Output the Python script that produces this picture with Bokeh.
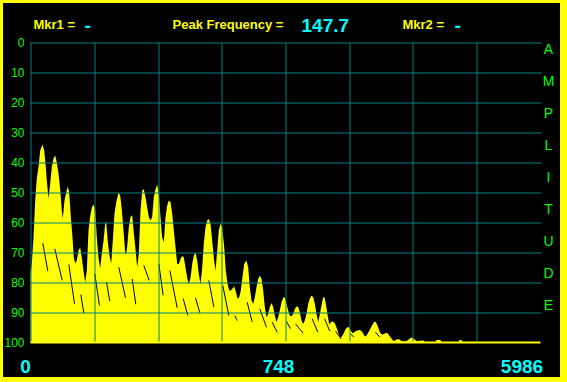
from bokeh.plotting import figure
from bokeh.models import Range1d
from bokeh.layouts import column
from bokeh.core.properties import value
from bokeh.embed import file_html
from bokeh.resources import INLINE

# ---- data (frequency bin, amplitude; 0 = top, 100 = bottom) ----
freq_bin = [0, 1.3, 3, 4.7, 6.3, 8, 9.7, 12, 13.7, 15.3, 16.3, 18, 19.7, 21.3, 23, 24.7, 26.3, 28, 29.7,
            31.3, 32.3, 34, 35.7, 37.3, 38.7, 40.3, 42, 43.3, 44.7, 46.3, 48, 49.7, 51.3, 53, 54.7, 56.3,
            58, 59.7, 61.3, 63, 64.7, 66.3, 68, 69.7, 71.3, 73, 74.7, 75.7, 77.3, 79, 80.7, 82.3, 84, 85.7,
            88, 89.7, 91.3, 93, 94.7, 95.5,
            96.7, 98.3, 100, 101.7, 103.3, 105, 106.7, 108.3, 110, 111.7, 113.3, 115, 116.7, 118.3, 120,
            121.7, 123.3, 125, 126.7, 128.3, 130, 131.7, 133.3, 135, 136.7, 138.3, 140, 141.7, 143.3, 145,
            146.7, 148.3, 150, 151.7, 153.3, 155, 156.7, 158.3, 160, 161.7, 163.3, 165, 166.7, 168.3, 170,
            171.7, 173.3, 175, 176.7, 178.3, 180, 181.7, 183.3, 185, 186.7, 188.3, 190, 191.7,
            193.7, 195.3, 197, 198.7, 200.3, 202, 203.7, 205.3, 207, 208.7, 210.3, 212, 213.7, 216, 217.7,
            219.3, 221, 222.7, 224.3, 226, 227.7, 229.3, 231, 232.7, 234.3, 236, 237.7, 239.3, 241, 242.7,
            244.3, 246, 247.7, 249.3, 251, 252.7, 254.3, 256, 257.7, 259.3, 261, 262.7, 264.3, 266, 267.7,
            269.3, 271, 272.7, 274.3, 276, 277.7, 279.3, 281, 282.7, 284.3, 286, 287.7,
            289.7, 291.3, 292.7, 294, 295.3, 297, 298.7, 300.3, 302, 303.7, 305.3, 307, 308.7, 310.3, 312,
            313.7, 315.3, 317, 318.7, 320.3, 322, 323.7, 325.3, 327, 328.7, 330.3, 332, 333.7, 335.3, 337,
            338.7, 340.3, 342, 343.7, 345.3, 347, 348.7, 350.3, 352, 353.7, 355.3, 357, 358.7, 360.3, 362,
            363.7, 365.3, 367, 368.7, 370.3, 372, 373.7, 375.3, 377, 378.7, 380.3, 382, 383.7, 385.3, 387,
            389, 393, 395, 405, 406, 410, 411, 428, 429, 431, 432, 510]
amplitude = [77, 73.7, 65, 52.7, 45.3, 41.5, 36, 34, 36, 41.5, 46, 52, 47, 41.5, 38.7, 37.7, 40, 43.7, 49,
             56, 58.7, 52.7, 50, 48, 50, 58, 65, 71.7, 73.7, 72.7, 69.3, 68.3, 71.7, 76, 80, 76,
             62.7, 58, 55, 54, 55.7, 65, 71.7, 75.3, 70.3, 66.2, 60.4, 59.8, 66.5, 71, 73.7, 66, 57, 53.3,
             50, 51, 55.7, 62.7, 70, 70.7,
             68, 61.6, 58.2, 57.6, 63.3, 68.9, 74.9, 70.4, 56, 49.3, 48.9, 51.6, 55, 58.2, 59.3,
             58.2, 51.6, 48.9, 47.3, 50.4, 58.2, 65, 66.6, 58.2, 54.3, 52.7, 53.2, 57.1, 62.7, 68.2,
             73.8, 73.8, 72.2, 71.1, 71.7, 75, 78.4, 80.6, 78.4, 73.8, 71.1, 70, 72.7, 77.2, 80.6,
             75, 67.1, 61.6, 59.3, 58.8, 60.4, 66.1, 71.7, 76.2, 69.3, 62.7, 60.4, 61.6,
             68.2, 76, 80.4, 82.7, 82.7, 82, 81.3, 83, 85.4, 84.9, 82.7, 78.2, 73.8, 72.7, 75,
             81.6, 86, 87.1, 84.9, 81.6, 78.8, 77.7, 78.8, 82.7, 88.2, 91.6, 90.4, 88.2, 86.8, 88.2,
             91, 93.2, 91.6, 89.3, 86.6, 85.1, 84.9, 87.1, 89.3, 91, 91.3, 90.4, 88.8, 88, 88.2,
             89.9, 92.7, 93.8, 92.7, 90.4, 87.1, 85.4, 84.3, 84.9, 87.1, 90.4, 93.2,
             89.9, 87.1, 84.9, 84.9, 87.1, 90.6, 93.9, 93.3, 93, 93.3, 94.3, 96, 97.7, 98.4, 97.7,
             96.6, 95.4, 94.9, 94.9, 96, 96.9, 96.6, 96.2, 96, 95.8, 96, 96.6, 97.7, 98, 97.1,
             96.2, 95.1, 94, 93.1, 93.2, 94.3, 96, 97.1, 97.3, 97.1, 96.8, 96.9, 97.7, 98.4, 99.1,
             99.6, 99.1, 98.9, 98.9, 99.3, 99.6, 99.6, 99.6, 99.3, 98.8, 98.4, 98.4, 98.8, 99.3, 99.6,
             99.4, 99.3, 100, 100, 99.2, 99.2, 100, 100, 99.2, 99.2, 100, 100]

# ghost trace strokes inside the spectrum
trace_x0 = [12.3, 24.3, 38.3, 50.3, 64.3, 76, 88.3, 101.7, 113.3, 128.3, 139.3, 152.7, 165, 178.3,
            192.3, 204.3, 216.7, 229.3, 241.7, 256, 265, 281.7, 294, 305, 320, 345]
trace_y0 = [66.9, 68.8, 74, 84, 77.1, 79.9, 74.9, 78.8, 74.3, 73.8, 76, 85.4, 85.1, 79.3,
            81, 91, 86.6, 88.8, 93.2, 93, 93.8, 92.1, 92.1, 96.2, 97.1, 96.6]
trace_x1 = [17.3, 31.7, 44, 53.3, 69, 79.3, 95, 105.3, 118.7, 132.7, 146.7, 157.3, 169.3, 183.3,
            198.3, 206.7, 221.7, 236, 246.7, 260, 272.7, 287.3, 299.3, 310.7, 323.3, 349.3]
trace_y1 = [76.2, 79.3, 87.1, 90.2, 87.7, 86.2, 85.1, 87.3, 79.3, 84.3, 88.4, 91, 90.1, 88.2,
            91, 92.7, 93.2, 94.9, 96.6, 95.4, 96.9, 96.6, 96.2, 98.8, 98.2, 98.2]

y_ticks = [0, 10, 20, 30, 40, 50, 60, 70, 80, 90, 100]
y_tick_labels = ["0", "10", "20", "30", "40", "50", "60", "70", "80", "90", "100"]
freq_labels = ["0", "748", "5986"]
marker_names = ["Mkr1 =", "Peak Frequency =", "Mkr2 ="]
marker_values = ["-", "147.7", "-"]
side_letters = list("AMPLITUDE")

YELLOW = "#ffff00"
CYAN = "#00ffff"
GREEN = "#00ff00"
TEAL = "#008080"
FONT = "Liberation Sans"

X_MAX = 510
# frame covers the whole canvas; spectrum area: x 0..510, y 0..100 (3 px per unit)
p = figure(width=557, height=374, x_range=Range1d(-27, 530), y_range=Range1d(100 + 35 / 3, -13),
           x_axis_location=None, y_axis_location=None, output_backend="svg", toolbar_location=None,
           min_border_left=0, min_border_right=0, min_border_top=0, min_border_bottom=0,
           background_fill_color="black", border_fill_color="black", outline_line_color=None)
p.grid.visible = False

# spectrum
p.varea(x=freq_bin, y1=amplitude, y2=100, fill_color=YELLOW)
p.segment(x0=trace_x0, y0=trace_y0, x1=trace_x1, y1=trace_y1, line_color="black", line_width=1)

# grid (drawn over the spectrum, pixel-snapped)
gx = [round(n * X_MAX / 8) + 0.5 for n in range(8)]
p.segment(x0=gx, y0=[0] * len(gx), x1=gx, y1=[100] * len(gx), line_color=TEAL, line_width=1)
gy = [t + 1 / 6 for t in y_ticks[:-1]]
p.segment(x0=[0] * len(gy), y0=gy, x1=[X_MAX + 1] * len(gy), y1=gy, line_color=TEAL, line_width=1)
p.segment(x0=[0], y0=[100], x1=[X_MAX], y1=[100], line_color=YELLOW, line_width=2)

# amplitude tick labels
p.text(x=[-6] * len(y_ticks), y=y_ticks, text=y_tick_labels, text_color=GREEN,
       text_font=value(FONT), text_font_size="12px", text_align="right", text_baseline="middle")

# header
p.text(x=[3, 142, 372], y=[-6] * 3, text=marker_names, text_color=YELLOW,
       text_font=value(FONT), text_font_style=value("bold"), text_font_size="13px",
       text_align="left", text_baseline="middle")
p.text(x=[54, 271, 424], y=[-17 / 3] * 3, text=marker_values, text_color=CYAN,
       text_font=value(FONT), text_font_style=value("bold"), text_font_size="19px",
       text_align="left", text_baseline="middle")

# frequency labels
p.text(x=[-5, 248, 491.5], y=[108] * 3, text=freq_labels, text_color=CYAN,
       text_font=value(FONT), text_font_style=value("bold"), text_font_size="19px",
       text_align="center", text_baseline="middle")

# vertical AMPLITUDE letters
p.text(x=[518] * len(side_letters), y=[(6.8 + 32 * i) / 3 for i in range(len(side_letters))],
       text=side_letters, text_color=GREEN, text_font=value(FONT), text_font_size="14px",
       text_align="center", text_baseline="middle")

inner = column(p, margin=(3, 7, 5, 3), styles={"background-color": "black"})
layout = column(inner, styles={"background-color": YELLOW})
open("out.html", "w").write(file_html(layout, INLINE))
